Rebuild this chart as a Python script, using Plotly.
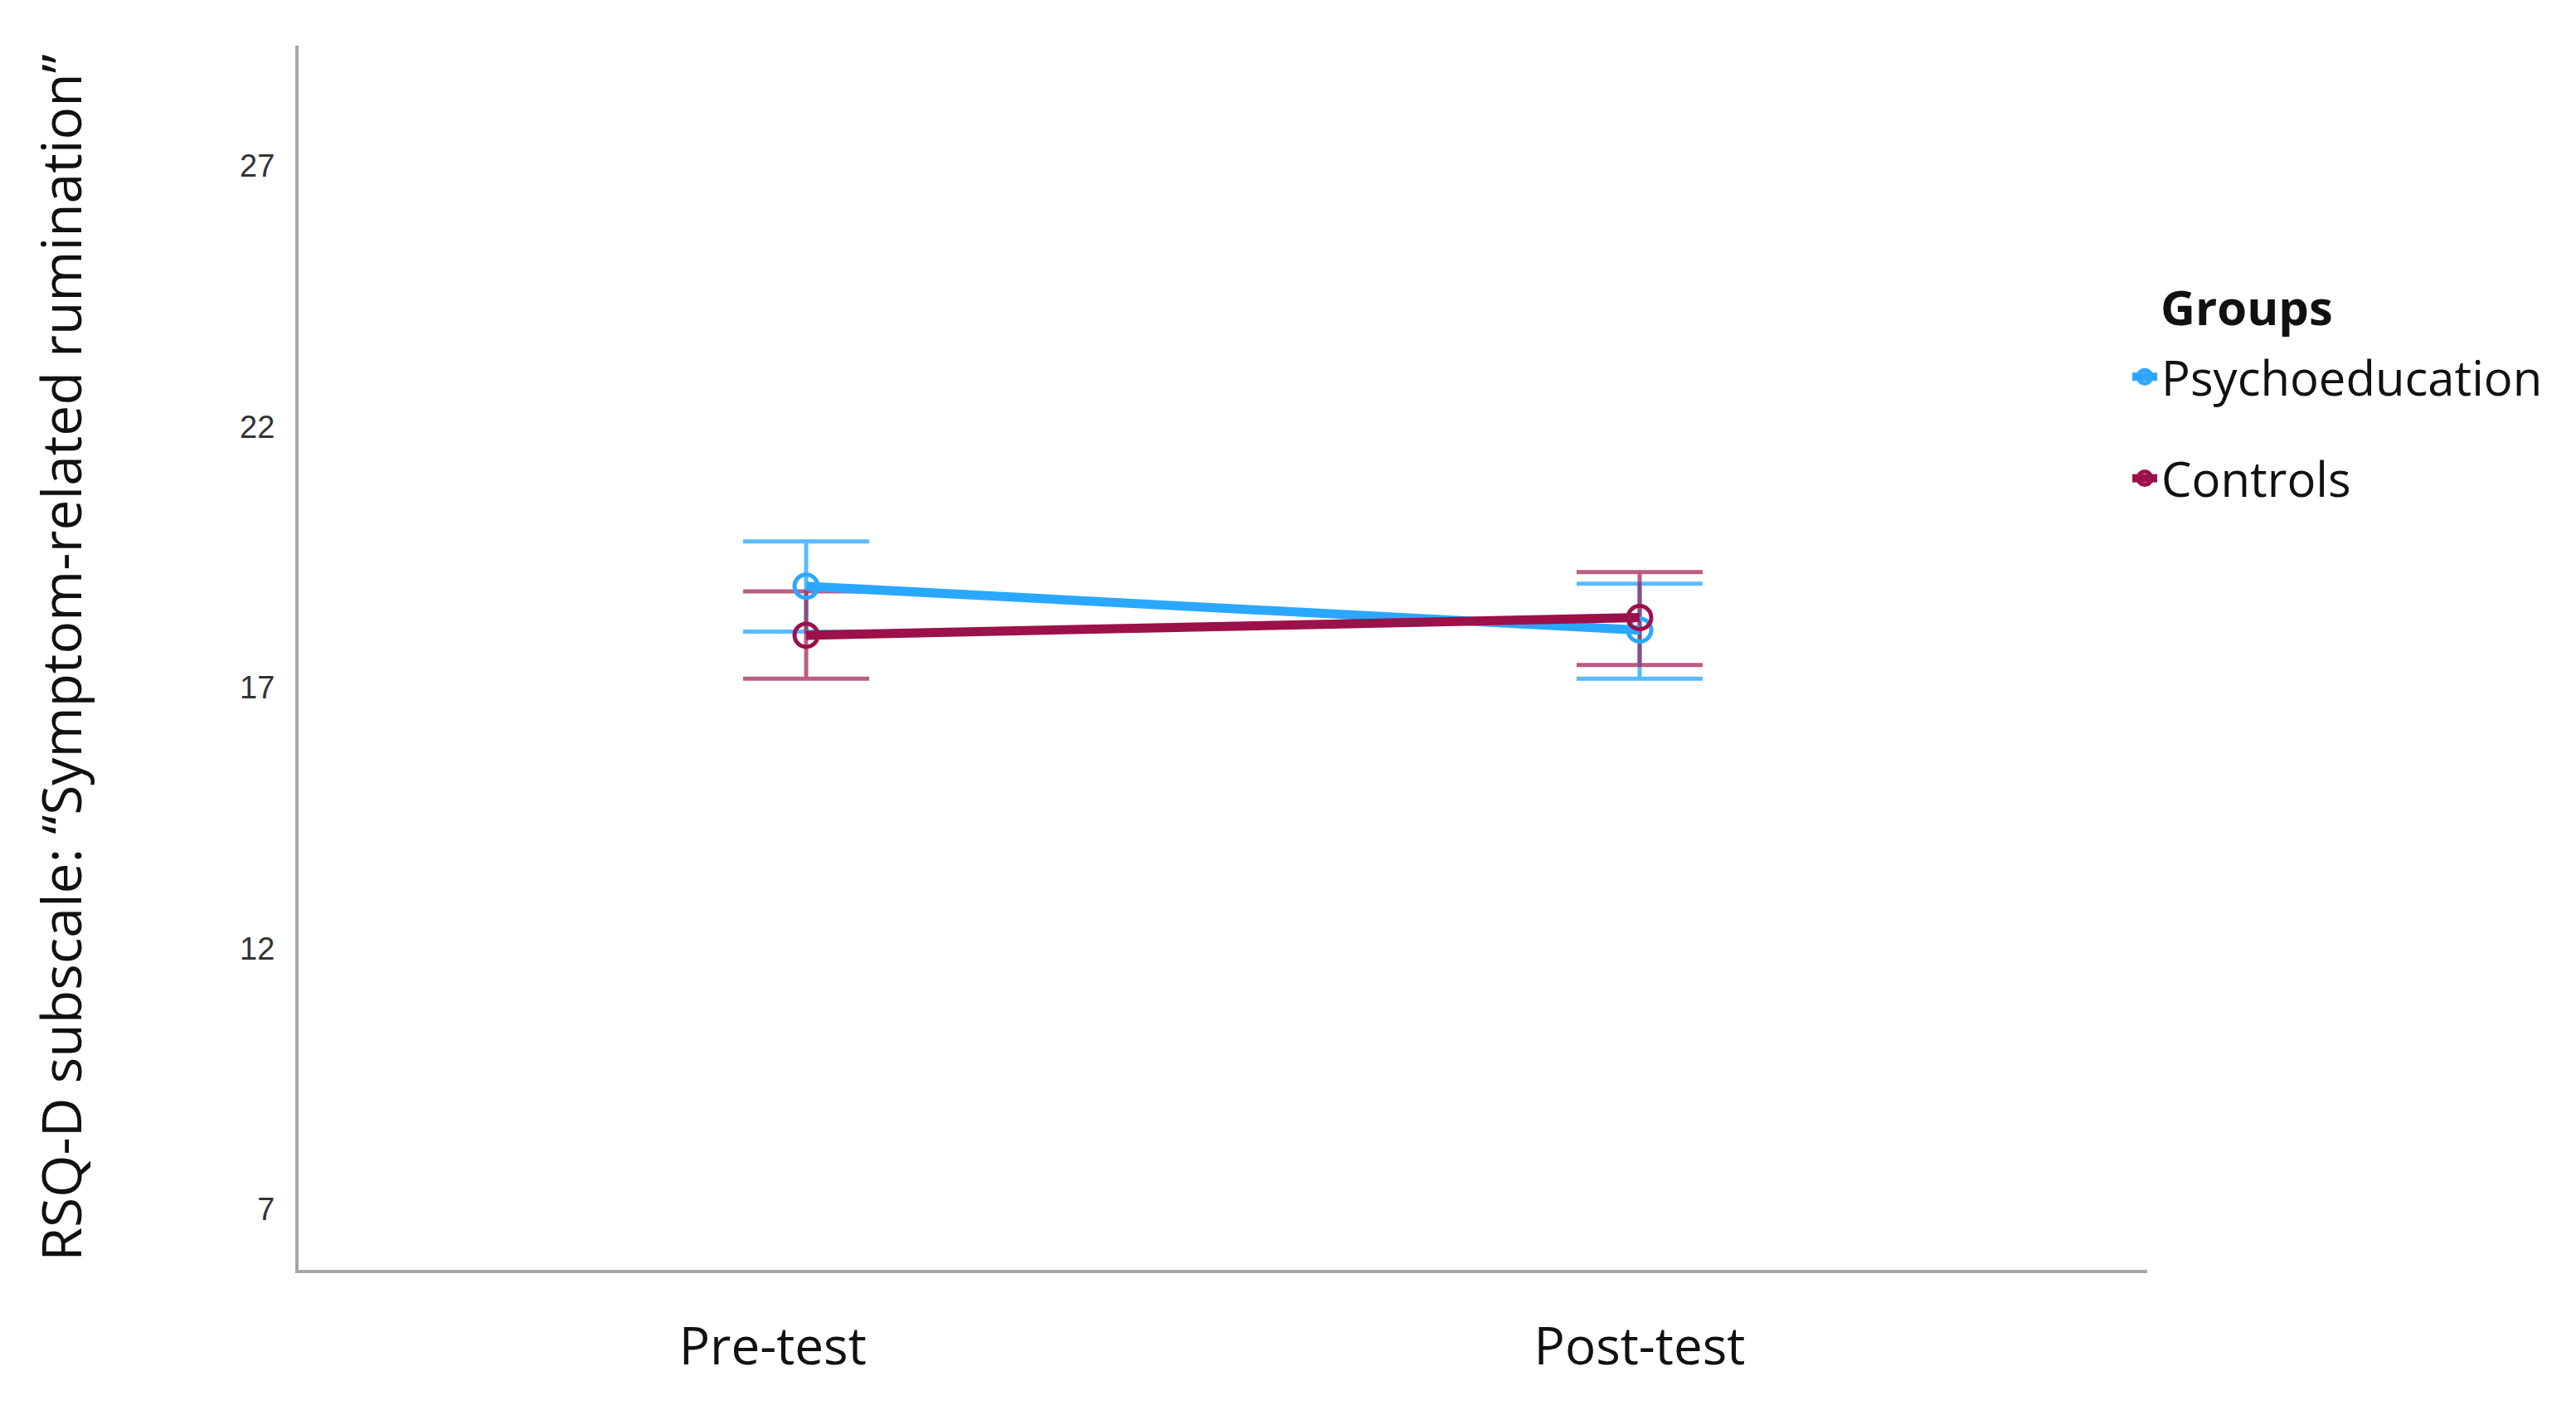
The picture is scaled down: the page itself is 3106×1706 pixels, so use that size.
# RSQ-D symptom-related rumination: pre/post means with error bars

import plotly.graph_objects as go


# ---------------------------------------------------------
# data
# ---------------------------------------------------------

times = ["Pre-test", "Post-test"]

time_labels = ["Pre-test&nbsp;&nbsp;&nbsp;&nbsp;&nbsp;", "Post-test"]

groups = ["Psychoeducation", "Controls"]

psycho_mean = [18.94, 18.10]
psycho_upper = [19.80, 18.99]
psycho_lower = [18.07, 17.17]

control_mean = [18.00, 18.34]
control_upper = [18.84, 19.21]
control_lower = [17.17, 17.43]

y_ticks = [7, 12, 17, 22, 27]


# ---------------------------------------------------------
# styles
# ---------------------------------------------------------

line_colors = {
    "Psychoeducation": "#2aa8ff",
    "Controls": "#9c1149",
}

error_colors = {
    "Psychoeducation": "rgba(60,175,255,0.85)",
    "Controls": "rgba(160,30,85,0.72)",
}

series = {
    "Psychoeducation": (psycho_mean, psycho_upper, psycho_lower),
    "Controls": (control_mean, control_upper, control_lower),
}

fig = go.Figure()

# error bars first (no legend)
for group in groups:

    mean, upper, lower = series[group]

    fig.add_trace(
        go.Scatter(
            x=times,
            y=mean,
            mode="markers",
            marker=dict(size=1, opacity=0),
            error_y=dict(
                type="data",
                symmetric=False,
                array=[u - m for u, m in zip(upper, mean)],
                arrayminus=[m - l for m, l in zip(mean, lower)],
                color=error_colors[group],
                thickness=5,
                width=76,
            ),
            showlegend=False,
            hoverinfo="skip",
        )
    )

# mean lines
for group in groups:

    mean, upper, lower = series[group]

    fig.add_trace(
        go.Scatter(
            x=times,
            y=mean,
            name=group,
            legendgroup=group,
            mode="lines+markers",
            line=dict(color=line_colors[group], width=11),
            marker=dict(
                symbol="circle-open",
                size=28,
                color=line_colors[group],
                line=dict(width=5, color=line_colors[group]),
            ),
        )
    )

fig.add_annotation(
    text="<b>Groups</b>",
    xref="paper",
    yref="paper",
    x=1.0063,
    y=0.787,
    xanchor="left",
    yanchor="middle",
    showarrow=False,
    font=dict(family="Open Sans", size=58, color="#111111"),
)

fig.update_layout(
    width=3106,
    height=1706,
    margin=dict(l=352, r=525, t=47, b=183),
    paper_bgcolor="white",
    plot_bgcolor="white",
    font=dict(family="Open Sans", color="#111111"),
    legend=dict(
        x=0.9897,
        y=0.688,
        xanchor="left",
        yanchor="middle",
        font=dict(family="Open Sans", size=58, color="#111111"),
        tracegroupgap=44,
        bgcolor="rgba(0,0,0,0)",
    ),
    xaxis=dict(
        type="category",
        range=[-0.609, 1.609],
        tickvals=times,
        ticktext=time_labels,
        showgrid=False,
        zeroline=False,
        showline=True,
        linecolor="#a6a6a6",
        linewidth=4,
        ticks="",
        ticklabelstandoff=36,
        tickfont=dict(family="Open Sans", size=62, color="#111111"),
    ),
    yaxis=dict(
        range=[5.84, 29.3],
        tickvals=y_ticks,
        ticktext=[str(v) for v in y_ticks],
        showgrid=False,
        zeroline=False,
        showline=True,
        linecolor="#a6a6a6",
        linewidth=4,
        ticks="",
        ticklabelstandoff=17,
        tickfont=dict(family="Liberation Sans", size=38, color="#333333"),
        title=dict(
            text="RSQ-D subscale: \u201cSymptom-related rumination\u201d",
            font=dict(family="Open Sans", size=66, color="#111111"),
            standoff=170,
        ),
    ),
)

fig.write_html("out.html")
